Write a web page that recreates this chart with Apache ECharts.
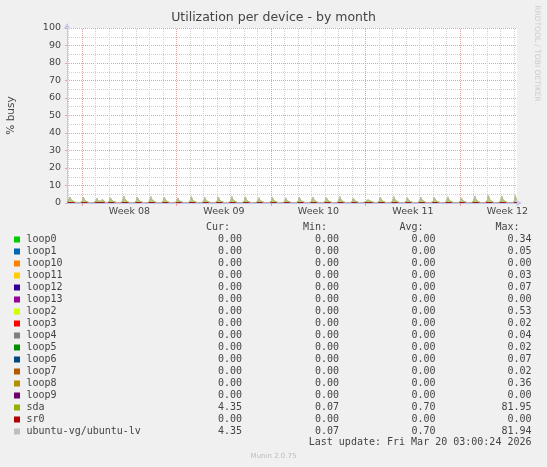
<!DOCTYPE html>
<html>
<head>
<meta charset="utf-8">
<title>Utilization per device - by month</title>
<script src="https://cdn.jsdelivr.net/npm/echarts@6/dist/echarts.min.js"></script>
<style>
  html, body { margin: 0; padding: 0; background: #f0f0f0; }
  #chart { width: 547px; height: 467px; }
</style>
</head>
<body>
<div id="chart"></div>
<script>
// x values are hours since Mon 9 Feb 2026 00:00
const startHour = 141   // Sat 14 Feb 21:00
const endHour = 941     // Fri 20 Mar 05:00
const sampleStart = 142 // first 2h sample
const sampleStep = 2

const weekStarts = [168, 336, 504, 672, 840]
const weekLabelAt = [252, 420, 588, 756, 924]
const weekLabels = ['Week 08', 'Week 09', 'Week 10', 'Week 11', 'Week 12']

const devices = ['loop0', 'loop1', 'loop10', 'loop11', 'loop12', 'loop13', 'loop2', 'loop3', 'loop4',
  'loop5', 'loop6', 'loop7', 'loop8', 'loop9', 'sda', 'sr0', 'ubuntu-vg/ubuntu-lv']
const palette = ['#00CC00', '#0066B3', '#FF8000', '#FFCC00', '#330099', '#990099', '#CCFF00', '#FF0000', '#808080',
  '#008F00', '#00487D', '#B35A00', '#B38F00', '#6B006B', '#8FB300', '#B30000', '#BEBEBE']

const curVals = [0, 0, 0, 0, 0, 0, 0, 0, 0, 0, 0, 0, 0, 0, 4.35, 0, 4.35]
const minVals = [0, 0, 0, 0, 0, 0, 0, 0, 0, 0, 0, 0, 0, 0, 0.07, 0, 0.07]
const avgVals = [0, 0, 0, 0, 0, 0, 0, 0, 0, 0, 0, 0, 0, 0, 0.70, 0, 0.70]
const maxVals = [0.34, 0.05, 0, 0.03, 0.07, 0, 0.53, 0.02, 0.04, 0.02, 0.07, 0.02, 0.36, 0, 81.95, 0, 81.94]

// loops and sr0 stay flat at zero for the whole month
const idleUtil = [0, 0]

// sda, 2h averages, one row per day (00:00 .. 22:00)
const sdaUtil = [
  0.3,
  1.0, 3.4, 1.9, 1.6, 0.9, 0.6, 0.4, 0.2, 0.2, 0.3, 0.2, 0.2, // Feb 15
  0.9, 3.2, 1.7, 1.3, 0.8, 0.5, 0.3, 0.2, 0.2, 0.2, 0.3, 0.2,
  0.8, 2.6, 1.4, 1.8, 0.9, 1.3, 2.0, 1.2, 0.5, 0.3, 0.2, 0.2,
  0.9, 3.0, 1.6, 1.6, 0.8, 0.5, 0.4, 0.2, 0.2, 0.2, 0.2, 0.2,
  1.0, 3.8, 2.0, 1.5, 0.9, 0.5, 0.3, 0.2, 0.3, 0.2, 0.2, 0.2,
  0.9, 3.4, 1.8, 1.3, 0.8, 0.4, 0.3, 0.2, 0.2, 0.2, 0.2, 0.3,
  1.0, 3.6, 1.8, 1.5, 0.8, 0.5, 0.3, 0.2, 0.2, 0.2, 0.2, 0.2,
  0.9, 3.2, 1.7, 1.3, 0.7, 0.4, 0.3, 0.2, 0.2, 0.2, 0.2, 0.2, // Feb 22
  0.8, 2.9, 1.5, 1.3, 0.7, 0.4, 0.3, 0.2, 0.2, 0.3, 0.2, 0.2,
  1.0, 3.6, 1.9, 1.4, 0.8, 0.5, 0.3, 0.2, 0.2, 0.2, 0.2, 0.2,
  0.9, 3.1, 1.6, 1.3, 0.7, 0.4, 0.3, 0.2, 0.2, 0.2, 0.2, 0.2,
  1.0, 3.5, 1.8, 1.5, 0.8, 0.5, 0.3, 0.2, 0.2, 0.2, 0.3, 0.2,
  1.0, 3.7, 1.9, 1.4, 0.8, 0.4, 0.3, 0.2, 0.2, 0.2, 0.2, 0.2,
  1.0, 3.5, 1.8, 1.3, 0.7, 0.4, 0.3, 0.2, 0.2, 0.2, 0.2, 0.2,
  0.9, 3.0, 1.6, 1.2, 0.7, 0.4, 0.3, 0.2, 0.2, 0.2, 0.2, 0.2, // Mar 1
  0.9, 3.2, 1.7, 1.4, 0.8, 0.5, 0.3, 0.2, 0.2, 0.2, 0.2, 0.2,
  0.8, 2.9, 1.5, 1.3, 0.7, 0.4, 0.3, 0.2, 0.2, 0.3, 0.2, 0.2,
  0.9, 3.3, 1.7, 1.5, 0.8, 0.5, 0.3, 0.2, 0.2, 0.2, 0.2, 0.2,
  1.0, 3.4, 1.8, 1.3, 0.7, 0.4, 0.3, 0.2, 0.2, 0.2, 0.2, 0.2,
  0.9, 3.1, 1.6, 1.4, 0.8, 0.4, 0.3, 0.2, 0.2, 0.2, 0.2, 0.2,
  1.0, 3.6, 1.9, 1.3, 0.7, 0.5, 0.3, 0.2, 0.2, 0.2, 0.2, 0.2,
  0.8, 2.8, 1.5, 1.2, 0.7, 0.4, 0.3, 0.2, 0.2, 0.2, 0.2, 0.2, // Mar 8
  0.9, 1.5, 1.8, 1.4, 1.2, 0.9, 0.6, 0.4, 0.3, 0.2, 0.2, 0.2,
  0.9, 3.2, 1.7, 1.4, 0.8, 0.5, 0.3, 0.2, 0.2, 0.2, 0.2, 0.2,
  1.0, 3.6, 1.9, 1.5, 0.8, 0.4, 0.3, 0.2, 0.2, 0.2, 0.2, 0.2,
  0.9, 3.0, 1.6, 1.3, 0.7, 0.4, 0.3, 0.2, 0.2, 0.2, 0.2, 0.2,
  0.9, 3.3, 1.7, 1.4, 0.8, 0.5, 0.3, 0.2, 0.2, 0.2, 0.2, 0.2,
  0.9, 3.1, 1.6, 1.3, 0.7, 0.4, 0.3, 0.2, 0.2, 0.2, 0.2, 0.2,
  1.0, 3.5, 1.8, 1.4, 0.8, 0.5, 0.3, 0.2, 0.2, 0.2, 0.2, 0.2,
  0.8, 2.9, 1.5, 1.2, 0.7, 0.4, 0.3, 0.2, 0.2, 0.2, 0.2, 0.2, // Mar 16
  1.1, 3.9, 2.0, 1.5, 0.8, 0.5, 0.3, 0.2, 0.2, 0.2, 0.2, 0.2,
  1.2, 4.4, 2.2, 1.6, 0.9, 0.5, 0.3, 0.2, 0.2, 0.2, 0.2, 0.2,
  1.1, 3.8, 1.9, 1.4, 0.8, 0.5, 0.3, 0.2, 0.2, 0.2, 0.2, 0.2,
  0.7, 4.2, 1.4                                                // Mar 20
]
const lvUtil = sdaUtil // ubuntu-lv sits on sda, same trace

const seriesValues = {
  'sda': sdaUtil,
  'ubuntu-vg/ubuntu-lv': lvUtil,
}

const TEXT = '#444'
const MONO = 'DejaVu Sans Mono'
const SANS = 'DejaVu Sans'
const MAJOR = '#eca0a0'
const MINOR = '#d2d2d2'
const AXIS = '#c4c4ee'

function toPoints(values) {
  if (values === idleUtil) return [[startHour, values[0]], [endHour, values[1]]]
  return values.map((v, i) => [sampleStart + i * sampleStep, v])
}

// vertical grid: one dotted line per midnight, red on Mondays
const dayLines = []
for (let h = 144; h < endHour; h += 24) {
  if (!weekStarts.includes(h)) dayLines.push(h)
}

const gridSeries = {
  type: 'custom',
  name: 'grid',
  xAxisIndex: 0,
  z: 1,
  silent: true,
  animation: false,
  clip: false,
  data: [...dayLines.map(h => [h, 0]), ...weekStarts.map(h => [h, 1])],
  encode: { x: 0 },
  renderItem(params, api) {
    const cs = params.coordSys
    const x = Math.floor(api.coord([api.value(0), 0])[0])
    const fill = api.value(1) ? MAJOR : MINOR
    const dots = []
    // dotted 1-on/1-off, built from 1px cells so it stays crisp
    for (let y = cs.y + cs.height - 2; y >= cs.y; y -= 2) {
      dots.push({ type: 'rect', shape: { x, y, width: 1, height: 1 }, style: { fill } })
    }
    return { type: 'group', children: dots }
  },
}

const series = devices.map((name, i) => {
  const s = {
    type: 'line',
    name,
    xAxisIndex: 0,
    z: 2,
    data: toPoints(seriesValues[name] || idleUtil),
    symbol: 'none',
    lineStyle: { width: 1, color: palette[i] },
    itemStyle: { color: palette[i] },
    animation: false,
    silent: true,
  }
  if (name === 'sda') s.areaStyle = { color: palette[i], opacity: 0.6 }
  return s
})

// legend table below the plot
const rowY0 = 239.5
const rowStep = 12
const colRight = [242, 339, 435.5, 531.5]
const colHeads = ['Cur:', 'Min:', 'Avg:', 'Max:']
const colVals = [curVals, minVals, avgVals, maxVals]

const graphic = []
colHeads.forEach((h, c) => {
  graphic.push({ type: 'text', x: colRight[c] - 12, y: 227.7,
    style: { text: h, font: '10px ' + MONO, fill: TEXT, align: 'right', verticalAlign: 'middle' } })
})
devices.forEach((name, i) => {
  const y = rowY0 + i * rowStep
  graphic.push({ type: 'rect', shape: { x: 14, y: y - 3, width: 6, height: 6 }, style: { fill: palette[i] } })
  graphic.push({ type: 'text', x: 26.5, y,
    style: { text: name, font: '10px ' + MONO, fill: TEXT, align: 'left', verticalAlign: 'middle' } })
  colVals.forEach((vals, c) => {
    graphic.push({ type: 'text', x: colRight[c], y,
      style: { text: vals[i].toFixed(2), font: '10px ' + MONO, fill: TEXT, align: 'right', verticalAlign: 'middle' } })
  })
})
graphic.push({ type: 'text', x: 531.5, y: 442.7,
  style: { text: 'Last update: Fri Mar 20 03:00:24 2026', font: '10px ' + MONO, fill: TEXT, align: 'right', verticalAlign: 'middle' } })
graphic.push({ type: 'text', x: 273.5, y: 456,
  style: { text: 'Munin 2.0.75', font: '7px ' + SANS, fill: '#bbb', align: 'center', verticalAlign: 'middle' } })
graphic.push({ type: 'text', x: 11, y: 115.5, rotation: Math.PI / 2,
  style: { text: '% busy', font: '10.5px ' + SANS, fill: TEXT, align: 'center', verticalAlign: 'middle' } })
graphic.push({ type: 'text', x: 536.5, y: 53.5, rotation: -Math.PI / 2,
  style: { text: 'RRDTOOL / TOBI OETIKER', font: '7.5px ' + SANS, fill: '#ccc', align: 'center', verticalAlign: 'middle' } })

const chart = echarts.init(document.getElementById('chart'), null, { renderer: 'canvas' })
chart.setOption({
  backgroundColor: '#f0f0f0',
  animation: false,
  title: {
    text: 'Utilization per device - by month',
    left: 'center',
    top: 11,
    padding: 0,
    textStyle: { fontFamily: SANS, fontSize: 12.5, fontWeight: 'normal', color: TEXT },
  },
  grid: { left: 67, top: 28, width: 450, height: 175, show: true, backgroundColor: '#fff', borderWidth: 0 },
  xAxis: {
    type: 'value',
    min: startHour,
    max: endHour,
    z: 5,
    axisLine: { show: true, lineStyle: { color: AXIS }, symbol: ['none', 'arrow'], symbolSize: [5, 6], symbolOffset: [0, 5] },
    axisTick: { show: true, customValues: weekStarts, length: 3, lineStyle: { color: MAJOR } },
    axisLabel: {
      customValues: weekLabelAt,
      formatter: v => weekLabels[weekLabelAt.indexOf(v)] || '',
      fontFamily: SANS, fontSize: 9.5, color: TEXT, margin: 4,
    },
    splitLine: { show: false },
  },
  yAxis: {
    type: 'value',
    min: 0,
    max: 100,
    interval: 10,
    axisLine: { show: true, lineStyle: { color: AXIS }, symbol: ['none', 'arrow'], symbolSize: [5, 6], symbolOffset: [0, 5] },
    axisTick: { show: true, length: 2, lineStyle: { color: MAJOR } },
    axisLabel: { fontFamily: SANS, fontSize: 9.5, color: TEXT, margin: 6 },
    splitLine: { show: true, showMinLine: false, lineStyle: { color: MAJOR, type: [1, 1], width: 1 } },
    minorTick: { show: false, splitNumber: 2 },
    minorSplitLine: { show: true, lineStyle: { color: MINOR, type: [1, 1], width: 1 } },
  },
  graphic,
  series: [gridSeries, ...series],
})
</script>
</body>
</html>
